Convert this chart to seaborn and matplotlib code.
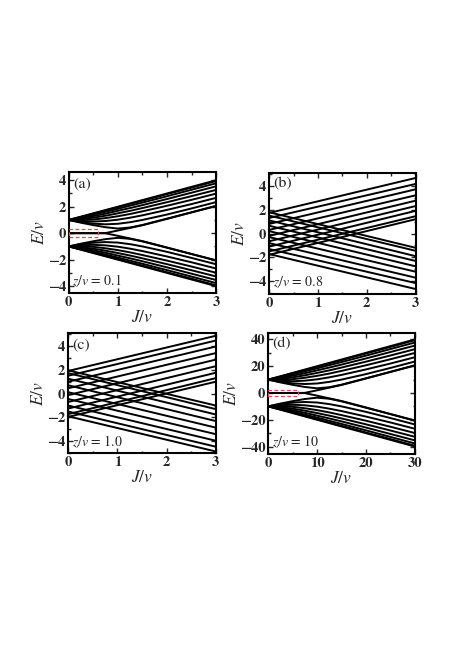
import matplotlib
matplotlib.use("Agg")
import matplotlib.pyplot as plt
import pandas as pd
import seaborn as sns
from matplotlib.patches import Rectangle
from matplotlib.ticker import MultipleLocator

# ---------------- panel (a): z/v = 0.1 ----------------
a_J = [0, 0.25, 0.5, 0.75, 1.0, 1.25, 1.5, 2.0, 2.5, 3.0]
a_upper = [
    [1.0, 1.25, 1.50, 1.75, 2.00, 2.25, 2.50, 3.00, 3.50, 4.00],
    [1.0, 1.23, 1.47, 1.72, 1.96, 2.21, 2.45, 2.95, 3.44, 3.94],
    [1.0, 1.19, 1.40, 1.62, 1.84, 2.08, 2.31, 2.79, 3.28, 3.77],
    [1.0, 1.13, 1.29, 1.48, 1.69, 1.90, 2.12, 2.58, 3.06, 3.54],
    [1.0, 1.06, 1.17, 1.32, 1.50, 1.69, 1.90, 2.34, 2.80, 3.27],
    [1.0, 0.99, 1.03, 1.14, 1.28, 1.45, 1.65, 2.07, 2.52, 2.99],
    [1.0, 0.91, 0.88, 0.92, 1.02, 1.17, 1.35, 1.76, 2.20, 2.67],
    [1.0, 0.83, 0.72, 0.67, 0.71, 0.83, 1.00, 1.41, 1.87, 2.35],
    [1.0, 0.79, 0.61, 0.45, 0.35, 0.43, 0.62, 1.10, 1.58, 2.07],
]
a_lower = [
    [-1.0, -1.25, -1.50, -1.75, -2.00, -2.25, -2.50, -3.00, -3.50, -4.00],
    [-1.0, -1.23, -1.47, -1.72, -1.96, -2.21, -2.45, -2.95, -3.44, -3.94],
    [-1.0, -1.19, -1.40, -1.62, -1.84, -2.08, -2.31, -2.79, -3.28, -3.77],
    [-1.0, -1.13, -1.29, -1.48, -1.69, -1.90, -2.12, -2.58, -3.06, -3.54],
    [-1.0, -1.06, -1.17, -1.32, -1.50, -1.69, -1.90, -2.34, -2.80, -3.27],
    [-1.0, -0.99, -1.03, -1.14, -1.28, -1.45, -1.65, -2.07, -2.52, -2.99],
    [-1.0, -0.91, -0.88, -0.92, -1.02, -1.17, -1.35, -1.76, -2.20, -2.67],
    [-1.0, -0.83, -0.72, -0.67, -0.71, -0.83, -1.00, -1.41, -1.87, -2.35],
    [-1.0, -0.79, -0.61, -0.45, -0.35, -0.43, -0.62, -1.10, -1.58, -2.07],
]
a_edge = [
    [0.0, 0.0, 0.0, 0.01, 0.20, 0.40, 0.60, 1.08, 1.57, 2.05],
    [0.0, 0.0, 0.0, -0.01, -0.20, -0.40, -0.60, -1.08, -1.57, -2.05],
]

# ---------------- panel (b): z/v = 0.8 ----------------
b_J = [0, 3]
b_up_start = [-1.78, -1.50, -1.10, -0.65, -0.20, 0.30, 0.80, 1.30, 1.72]
b_up_end = [1.20, 1.45, 1.90, 2.30, 2.75, 3.20, 3.70, 4.15, 4.65]
b_dn_start = [1.78, 1.50, 1.10, 0.65, 0.20, -0.30, -0.80, -1.30, -1.72]
b_dn_end = [-1.20, -1.45, -1.90, -2.30, -2.75, -3.20, -3.70, -4.15, -4.65]

# ---------------- panel (c): z/v = 1.0 ----------------
c_J = [0, 3]
c_up_start = [-1.95, -1.72, -1.25, -0.70, -0.12, 0.45, 1.00, 1.50, 1.90]
c_up_end = [1.00, 1.30, 1.75, 2.30, 2.85, 3.40, 3.95, 4.45, 4.85]
c_dn_start = [1.95, 1.72, 1.25, 0.70, 0.12, -0.45, -1.00, -1.50, -1.90]
c_dn_end = [-1.00, -1.30, -1.75, -2.30, -2.85, -3.40, -3.95, -4.45, -4.85]

# ---------------- panel (d): z/v = 10 ----------------
d_J = [0, 2.5, 5, 7.5, 10, 12.5, 15, 20, 25, 30]
d_upper = [
    [10.0, 12.5, 15.0, 17.5, 20.0, 22.5, 25.0, 30.0, 35.0, 40.0],
    [10.0, 12.3, 14.7, 17.2, 19.6, 22.1, 24.5, 29.5, 34.4, 39.4],
    [10.0, 11.9, 14.0, 16.2, 18.4, 20.8, 23.1, 27.9, 32.8, 37.7],
    [10.0, 11.3, 12.9, 14.8, 16.9, 19.0, 21.2, 25.8, 30.6, 35.4],
    [10.0, 10.6, 11.7, 13.2, 15.0, 16.9, 19.0, 23.4, 28.0, 32.7],
    [10.0, 9.9, 10.3, 11.4, 12.8, 14.5, 16.5, 20.7, 25.2, 29.9],
    [10.0, 9.1, 8.8, 9.2, 10.2, 11.7, 13.5, 17.6, 22.0, 26.7],
    [10.0, 8.3, 7.2, 6.7, 7.1, 8.3, 10.0, 14.1, 18.7, 23.5],
    [10.0, 7.9, 6.1, 4.5, 3.5, 4.3, 6.2, 11.0, 15.8, 20.7],
]
d_lower = [
    [-10.0, -12.5, -15.0, -17.5, -20.0, -22.5, -25.0, -30.0, -35.0, -40.0],
    [-10.0, -12.3, -14.7, -17.2, -19.6, -22.1, -24.5, -29.5, -34.4, -39.4],
    [-10.0, -11.9, -14.0, -16.2, -18.4, -20.8, -23.1, -27.9, -32.8, -37.7],
    [-10.0, -11.3, -12.9, -14.8, -16.9, -19.0, -21.2, -25.8, -30.6, -35.4],
    [-10.0, -10.6, -11.7, -13.2, -15.0, -16.9, -19.0, -23.4, -28.0, -32.7],
    [-10.0, -9.9, -10.3, -11.4, -12.8, -14.5, -16.5, -20.7, -25.2, -29.9],
    [-10.0, -9.1, -8.8, -9.2, -10.2, -11.7, -13.5, -17.6, -22.0, -26.7],
    [-10.0, -8.3, -7.2, -6.7, -7.1, -8.3, -10.0, -14.1, -18.7, -23.5],
    [-10.0, -7.9, -6.1, -4.5, -3.5, -4.3, -6.2, -11.0, -15.8, -20.7],
]
d_edge = [
    [0.0, 0.0, 0.0, 0.1, 2.0, 4.0, 6.0, 10.8, 15.7, 20.5],
    [0.0, 0.0, 0.0, -0.1, -2.0, -4.0, -6.0, -10.8, -15.7, -20.5],
]

panel_tags = ["(a)", "(b)", "(c)", "(d)"]
z_labels = ["0.1", "0.8", "1.0", "10"]

# red dashed zero-mode boxes (x0, y0, width, height)
box_a = (0.0, -0.27, 0.6, 0.55)
box_d = (0.0, -2.6, 6.0, 5.2)


def curves_frame(J, curves, tag):
    rows = []
    for i, curve in enumerate(curves):
        for x, y in zip(J, curve):
            rows.append({"J": x, "E": y, "line": f"{tag}{i}"})
    return pd.DataFrame(rows)


def lines_frame(J, starts, ends, tag):
    return curves_frame(J, [[s, e] for s, e in zip(starts, ends)], tag)


df_a = pd.concat([curves_frame(a_J, a_upper, "u"),
                  curves_frame(a_J, a_lower, "l"),
                  curves_frame(a_J, a_edge, "e")], ignore_index=True)
df_b = pd.concat([lines_frame(b_J, b_up_start, b_up_end, "u"),
                  lines_frame(b_J, b_dn_start, b_dn_end, "d")], ignore_index=True)
df_c = pd.concat([lines_frame(c_J, c_up_start, c_up_end, "u"),
                  lines_frame(c_J, c_dn_start, c_dn_end, "d")], ignore_index=True)
df_d = pd.concat([curves_frame(d_J, d_upper, "u"),
                  curves_frame(d_J, d_lower, "l"),
                  curves_frame(d_J, d_edge, "e")], ignore_index=True)

sns.set_theme(style="ticks")
plt.rcParams["font.family"] = ["STIXGeneral", "DejaVu Serif"]
plt.rcParams["mathtext.fontset"] = "stix"

fig = plt.figure(figsize=(4.64, 6.55), dpi=100)
fig.patch.set_facecolor("white")

positions = [
    [0.148, 0.553, 0.318, 0.184],
    [0.580, 0.551, 0.316, 0.185],
    [0.147, 0.308, 0.318, 0.183],
    [0.578, 0.307, 0.316, 0.185],
]
frames = [df_a, df_b, df_c, df_d]
xlims = [(0, 3), (0, 3), (0, 3), (0, 30)]
ylims = [(-4.5, 4.6), (-5.07, 5.07), (-5.0, 5.05), (-45.5, 45)]
xmajor = [1, 1, 1, 10]
xminor = [0.5, 0.5, 0.5, 5]
ymajor = [2, 2, 2, 20]
yminor = [1, 1, 1, 10]

for k in range(4):
    ax = fig.add_axes(positions[k])
    sns.lineplot(data=frames[k], x="J", y="E", units="line", estimator=None,
                 sort=False, color="black", linewidth=1.4, legend=False, ax=ax)
    ax.set_xlim(*xlims[k])
    ax.set_ylim(*ylims[k])
    ax.xaxis.set_major_locator(MultipleLocator(xmajor[k]))
    ax.xaxis.set_minor_locator(MultipleLocator(xminor[k]))
    ax.yaxis.set_major_locator(MultipleLocator(ymajor[k]))
    ax.yaxis.set_minor_locator(MultipleLocator(yminor[k]))
    ax.tick_params(which="both", direction="in", top=True, right=True,
                   width=1.0, labelsize=10.5, pad=2)
    ax.tick_params(which="major", length=3.5)
    ax.tick_params(which="minor", length=1.8)
    for lbl in ax.get_xticklabels() + ax.get_yticklabels():
        lbl.set_fontweight("bold")
    for sp in ax.spines.values():
        sp.set_linewidth(1.5)
        sp.set_color("black")
    ax.set_xlabel(r"$J/v$", fontsize=12.5, labelpad=1)
    ax.set_ylabel(r"$E/v$", fontsize=12.5, labelpad=0)
    ax.text(0.03, 0.965, panel_tags[k], transform=ax.transAxes,
            ha="left", va="top", fontsize=11.5)
    ax.text(0.025, 0.03, r"$z/v$ = " + z_labels[k], transform=ax.transAxes,
            ha="left", va="bottom", fontsize=10)
    if k == 0:
        ax.add_patch(Rectangle(box_a[:2], box_a[2], box_a[3], fill=False,
                               edgecolor="#e8474a", linestyle=(0, (3, 2)),
                               linewidth=0.9, zorder=5))
    if k == 3:
        ax.add_patch(Rectangle(box_d[:2], box_d[2], box_d[3], fill=False,
                               edgecolor="#e8474a", linestyle=(0, (3, 2)),
                               linewidth=0.9, zorder=5))

fig.savefig("out.png", dpi=100, facecolor="white")
